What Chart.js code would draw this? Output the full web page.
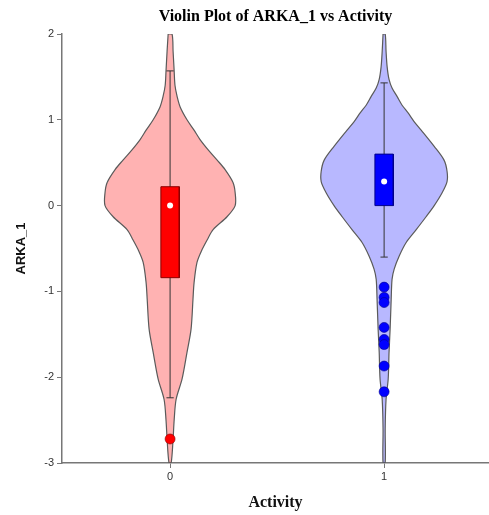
<html>
  <head>
    <title>Violin Plot of ARKA_1 vs Activity</title>
    <style>
      body { margin: 0; background: #fff; }
      #wrap { width: 489px; height: 515px; }
    </style>
  </head>
  <body>
    <div id="wrap"><canvas id="chart-violin"></canvas></div>

    <script src="https://cdn.jsdelivr.net/npm/chart.js@4"></script>
    <script type="text/javascript">
      const categories = [0, 1];
      const categoryLabels = ['0', '1'];
      const yTicks = [2, 1, 0, -1, -2, -3];

      // violin outlines: y values and half widths (x units)
      const violinY0 = [2.0, 1.8, 1.57, 1.4, 1.27, 1.15, 1.0, 0.88, 0.77, 0.65, 0.53, 0.42, 0.27, 0.15, 0.0,
        -0.13, -0.28, -0.4, -0.51, -0.66, -0.9, -1.09, -1.44, -1.71, -2.02, -2.26, -2.5, -2.72, -3.0];
      const violinW0 = [0.009, 0.014, 0.019, 0.023, 0.033, 0.047, 0.079, 0.112, 0.14, 0.178, 0.22, 0.257, 0.294, 0.304, 0.304,
        0.266, 0.201, 0.173, 0.15, 0.126, 0.112, 0.107, 0.098, 0.079, 0.056, 0.028, 0.019, 0.014, 0.005];
      const violinY1 = [2.0, 1.8, 1.62, 1.47, 1.37, 1.27, 1.17, 1.08, 0.98, 0.88, 0.69, 0.53, 0.4, 0.28, 0.15, 0.0,
        -0.13, -0.28, -0.43, -0.59, -0.74, -0.86, -1.09, -1.44, -1.71, -2.02, -2.26, -2.6, -3.0];
      const violinW1 = [0.005, 0.009, 0.014, 0.023, 0.037, 0.061, 0.084, 0.112, 0.14, 0.173, 0.234, 0.28, 0.294, 0.294, 0.271, 0.234,
        0.196, 0.15, 0.103, 0.07, 0.047, 0.037, 0.033, 0.028, 0.023, 0.019, 0.009, 0.005, 0.005];

      // box plot stats per category
      const q1 = [-0.84, 0.0];
      const q3 = [0.22, 0.6];
      const medians = [0.0, 0.28];
      const whiskerLow = [-2.24, -0.6];
      const whiskerHigh = [1.57, 1.43];
      const outliers0 = [-2.72];
      const outliers1 = [-0.95, -1.07, -1.13, -1.42, -1.56, -1.62, -1.87, -2.17];

      const violinFill = ['rgba(255, 0, 0, 0.3)', 'rgba(0, 0, 255, 0.28)'];
      const boxFill = ['#ff0000', '#0000ff'];
      const boxBorder = ['#8a0000', '#00008a'];
      const boxHalf = 0.043;
      const capHalf = 0.017;

      function violinPoints(c, ys, ws) {
        const left = ys.map((y, i) => ({ x: c - ws[i], y }));
        const right = ys.map((y, i) => ({ x: c + ws[i], y })).reverse();
        return [...left, ...right, left[0]];
      }

      const datasets = [];
      const violins = [
        [violinY0, violinW0],
        [violinY1, violinW1],
      ];
      const outliers = [outliers0, outliers1];

      categories.forEach((c, i) => {
        datasets.push({
          data: violinPoints(c, violins[i][0], violins[i][1]),
          borderColor: '#5a5a5a',
          borderWidth: 1.2,
          backgroundColor: violinFill[i],
          fill: 'shape',
          tension: 0.3,
          pointRadius: 0,
          order: 6,
        });
        datasets.push({
          data: [{ x: c, y: whiskerLow[i] }, { x: c, y: whiskerHigh[i] }],
          borderColor: '#333',
          borderWidth: 1,
          pointRadius: 0,
          fill: false,
          order: 5,
        });
        [whiskerLow[i], whiskerHigh[i]].forEach((w) =>
          datasets.push({
            data: [{ x: c - capHalf, y: w }, { x: c + capHalf, y: w }],
            borderColor: '#333',
            borderWidth: 1,
            pointRadius: 0,
            fill: false,
            order: 5,
          }),
        );
        datasets.push({
          data: [
            { x: c - boxHalf, y: q1[i] },
            { x: c - boxHalf, y: q3[i] },
            { x: c + boxHalf, y: q3[i] },
            { x: c + boxHalf, y: q1[i] },
            { x: c - boxHalf, y: q1[i] },
          ],
          borderColor: boxBorder[i],
          borderWidth: 1,
          backgroundColor: boxFill[i],
          fill: 'shape',
          tension: 0,
          pointRadius: 0,
          order: 4,
        });
        datasets.push({
          data: [{ x: c, y: medians[i] }],
          showLine: false,
          pointRadius: 3,
          pointBackgroundColor: '#ffffff',
          pointBorderWidth: 0,
          order: 3,
        });
        datasets.push({
          data: outliers[i].map((y) => ({ x: c, y })),
          showLine: false,
          pointRadius: 5,
          pointBackgroundColor: boxFill[i],
          pointBorderColor: boxBorder[i],
          pointBorderWidth: 0.6,
          order: 2,
        });
      });

      new Chart(document.getElementById('chart-violin'), {
        type: 'line',
        data: { datasets },
        options: {
          animation: false,
          responsive: true,
          maintainAspectRatio: false,
          layout: { padding: 0, autoPadding: false },
          plugins: {
            legend: { display: false },
            tooltip: { enabled: false },
            title: {
              display: true,
              fullSize: false,
              text: 'Violin Plot of ARKA_1 vs Activity',
              color: '#000',
              font: { family: '"Liberation Serif", "Times New Roman", serif', size: 16, weight: 'bold' },
              padding: { top: 7, bottom: 7.8 },
            },
          },
          scales: {
            x: {
              type: 'linear',
              min: -0.505,
              max: 1.49,
              afterBuildTicks: (scale) => {
                scale.ticks = categories.map((value) => ({ value }));
              },
              afterFit: (scale) => {
                scale.height = 52;
                scale.paddingLeft = 0;
                scale.paddingRight = 0;
              },
              ticks: {
                color: '#333',
                font: { family: '"Liberation Sans", Arial, sans-serif', size: 11 },
                padding: 2,
                callback: (v) => categoryLabels[categories.indexOf(v)],
              },
              grid: { drawOnChartArea: false, drawTicks: true, tickLength: 5, color: '#777' },
              border: { display: true, color: '#777', width: 1.5 },
              title: {
                display: true,
                text: 'Activity',
                color: '#111',
                font: { family: '"Liberation Serif", "Times New Roman", serif', size: 16, weight: 'bold' },
                padding: { top: 0, bottom: 2.4 },
              },
            },
            y: {
              min: -3,
              max: 2,
              afterBuildTicks: (scale) => {
                scale.ticks = yTicks.map((value) => ({ value }));
              },
              afterFit: (scale) => {
                scale.width = 62;
              },
              ticks: {
                color: '#333',
                font: { family: '"Liberation Sans", Arial, sans-serif', size: 11 },
                padding: 3,
              },
              grid: { drawOnChartArea: false, drawTicks: true, tickLength: 5, color: '#777' },
              border: { display: true, color: '#777', width: 1.5 },
              title: {
                display: true,
                text: 'ARKA_1',
                color: '#111',
                font: { family: '"Liberation Sans", Arial, sans-serif', size: 13, weight: 'bold' },
                padding: { top: 14, bottom: 0 },
              },
            },
          },
        },
      });
    </script>
  </body>
</html>
